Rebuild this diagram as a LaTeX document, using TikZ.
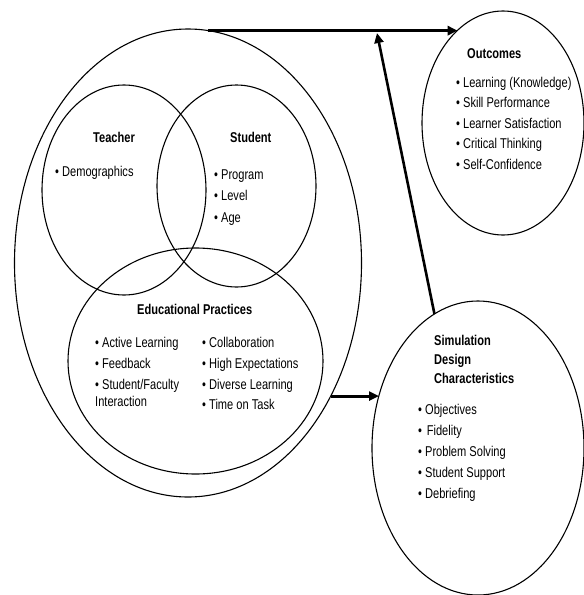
\documentclass[tikz,border=0pt]{standalone}
\usepackage{fontspec}
\setmainfont{Liberation Sans}[FakeStretch=0.78]
\usetikzlibrary{shapes.geometric,arrows.meta}
\newcommand{\stk}[1]{\vtop{\halign{##\hfil\cr #1\crcr}}}
\begin{document}
\begin{tikzpicture}[x=1pt,y=-1pt,
  ring/.style={draw, ellipse, line width=1.1pt, inner sep=0pt, outer sep=0pt},
  arr/.style={line width=3pt, -{Triangle[length=10pt,width=9pt]}},
  ttl/.style={font=\bfseries\fontsize{14.2}{19}\selectfont, anchor=base west, inner sep=0pt},
  lst/.style={font=\fontsize{14.2}{21}\selectfont, anchor=base west, inner sep=0pt}]
\useasboundingbox (0,0) rectangle (584,595);
% rings
\node[ring, minimum width=347pt, minimum height=468pt] (outer) at (188,263) {};
\node[ring, minimum width=164pt, minimum height=210pt] (teacher) at (124,190) {};
\node[ring, minimum width=159pt, minimum height=202pt] (student) at (236.5,186) {};
\node[ring, minimum width=255pt, minimum height=226pt] (edu) at (195.5,361) {};
\node[ring, minimum width=162pt, minimum height=224pt] (outc) at (503,123) {};
\node[ring, minimum width=212pt, minimum height=294pt] (sim) at (478,448) {};
% texts
\node[ttl] (tT) at (93,142) {Teacher};
\node[lst] (tL) at (55,176) {• Demographics};
\node[ttl] (sT) at (230,142) {Student};
\node[lst, font=\fontsize{14.2}{21.5}\selectfont] (sL) at (214,179) {\stk{• Program\cr • Level\cr • Age}};
\node[ttl] (eT) at (137,314) {Educational Practices};
\node[lst] (eL) at (95,347) {\stk{• Active Learning\cr • Feedback\cr • Student/Faculty\cr\noalign{\vskip-3.5pt} Interaction}};
\node[lst] (eR) at (202,347) {\stk{• Collaboration\cr • High Expectations\cr • Diverse Learning\cr\noalign{\vskip-1pt} • Time on Task}};
\node[ttl] (oT) at (467,58) {Outcomes};
\node[lst, font=\fontsize{14.2}{20.5}\selectfont] (oL) at (456,87) {\stk{• Learning (Knowledge)\cr • Skill Performance\cr • Learner Satisfaction\cr • Critical Thinking\cr • Self-Confidence}};
\node[ttl] (mT) at (434,345) {\stk{Simulation\cr Design\cr Characteristics}};
\node[lst] (mL) at (418,414) {\stk{• Objectives\cr •\,\,Fidelity\cr • Problem Solving\cr • Student Support\cr • Debriefing}};
% connectors
\coordinate (meet) at (377,33);
\draw[arr] (outer.85) -- (outer.85 -| outc.116);
\draw[arr, line width=2.6pt] (sim.108.7) -- (meet);
\draw[arr] (outer.-43.5) -- (outer.-43.5 -| sim.152.5);
\end{tikzpicture}
\end{document}
